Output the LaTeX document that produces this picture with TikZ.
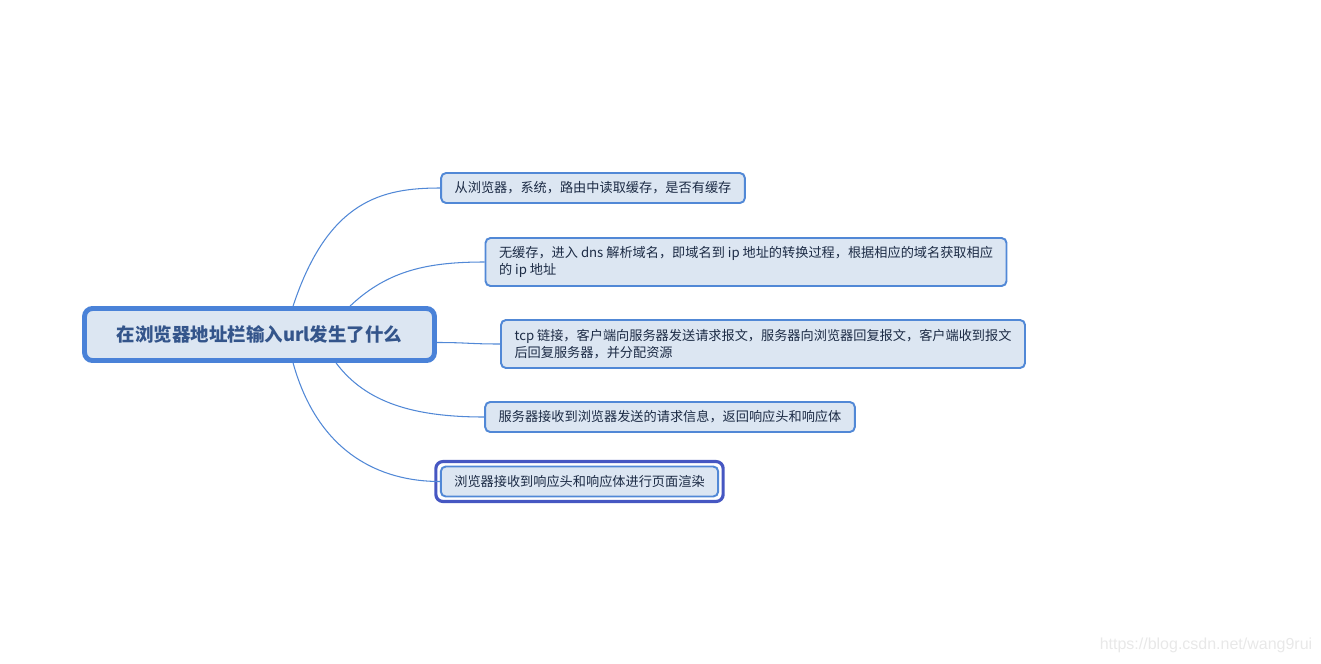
\documentclass[tikz,border=0pt]{standalone}
\usepackage{fontspec}
\setmainfont{Noto Sans CJK SC}
\newfontfamily\wmfont{Liberation Sans}
\usetikzlibrary{calc}
\definecolor{boxfill}{HTML}{DCE6F2}
\definecolor{boxline}{HTML}{5188D6}
\definecolor{rootline}{HTML}{4A82D8}
\definecolor{selline}{HTML}{4657C2}
\definecolor{roottext}{HTML}{34558B}
\definecolor{topictext}{HTML}{1C2B45}

\begin{document}
\begin{tikzpicture}[
    x=0.02cm, y=-0.02cm,
    root/.style={rectangle, rounded corners=4.5pt, draw=rootline, line width=2.8pt, fill=boxfill, text=roottext, font=\fontsize{10.5}{12.5}\selectfont\bfseries, minimum width=7cm, minimum height=1.04cm},
    topic/.style={rectangle, rounded corners=2.8pt, draw=boxline, line width=1.1pt, fill=boxfill, text=topictext, font=\fontsize{7.5}{9.6}\selectfont, inner xsep=0.27cm, minimum height=0.6cm},
    selframe/.style={draw=selline, line width=1.8pt, rounded corners=4pt},
    link/.style={draw=boxline, line width=0.6pt},
    watermark/.style={text=gray!18, font=\wmfont\fontsize{9.1}{11}\selectfont}
]
    \useasboundingbox (0,0) rectangle (1321,663);
    \node[root] (root) at (259.5,334.5) {在浏览器地址栏输入url发生了什么};
    \node[topic] (cache) at (593,188) {从浏览器，系统，路由中读取缓存，是否有缓存};
    \node[topic, align=left, minimum height=0.96cm] (dns) at (746,262) {无缓存，进入 dns 解析域名，即域名到 ip 地址的转换过程，根据相应的域名获取相应\\的 ip 地址};
    \node[topic, align=left, minimum height=0.96cm] (tcp) at (763,344) {tcp 链接，客户端向服务器发送请求报文，服务器向浏览器回复报文，客户端收到报文\\后回复服务器，并分配资源};
    \node[topic] (resp) at (670,417) {服务器接收到浏览器发送的请求信息，返回响应头和响应体};
    \node[topic] (render) at (579.5,481.5) {浏览器接收到响应头和响应体进行页面渲染};
    \draw[selframe] ($(render.south west)+(-4,4)$) rectangle ($(render.north east)+(4,-4)$);
    \node[watermark] (wm) at (1206,645) {https://blog.csdn.net/wang9rui};
    % branches
    \draw[link] ($(root.north west)+(211,0)$) .. controls +(35,-106) and +(-58,0) .. (cache.west);
    \draw[link] ($(root.north west)+(268,0)$) .. controls +(38,-36) and +(-56,0) .. (dns.west);
    \draw[link] ($(root.east)+(0,8)$) .. controls +(30,0) and +(-30,0) .. (tcp.west);
    \draw[link] ($(root.south west)+(254,0)$) .. controls +(30,40) and +(-70,0) .. (resp.west);
    \draw[link] ($(root.south west)+(211,0)$) .. controls +(25,90) and +(-60,0) .. (render.west);
\end{tikzpicture}
\end{document}
